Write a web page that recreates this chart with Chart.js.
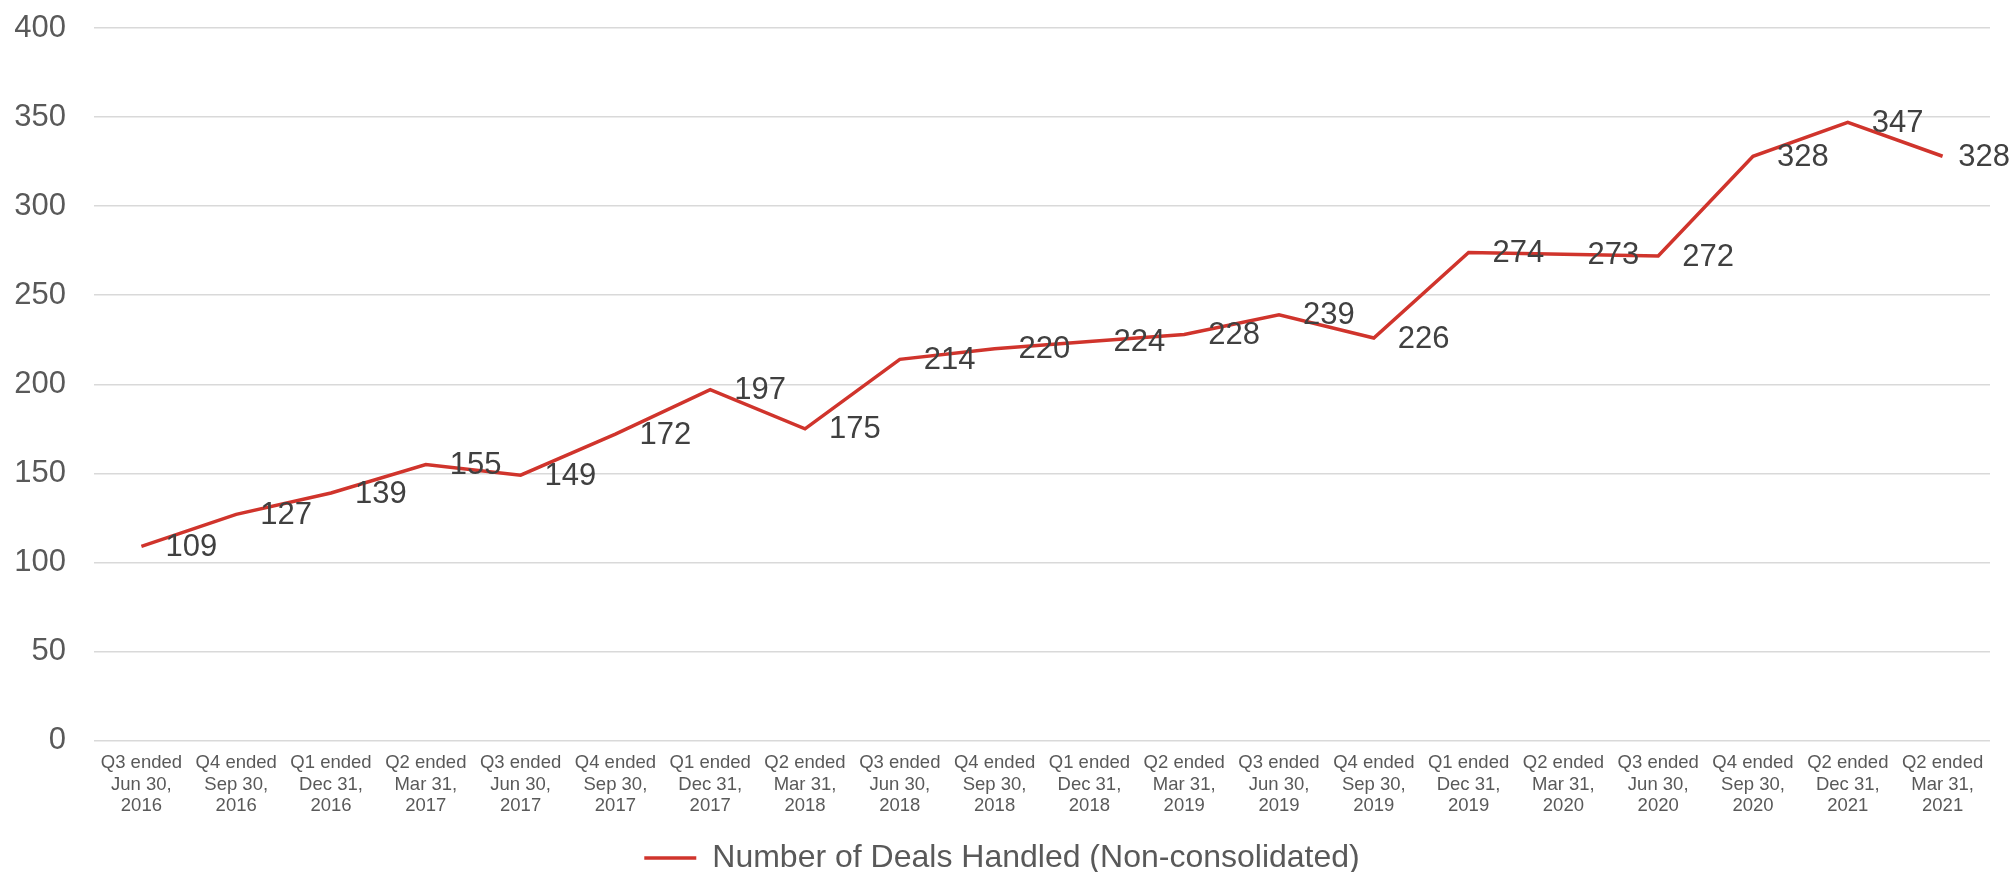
<!DOCTYPE html>
<html>
<head>
<meta charset="utf-8">
<title>Number of Deals Handled</title>
<script src="https://cdn.jsdelivr.net/npm/chart.js@4.4.1/dist/chart.umd.min.js"></script>
<style>
  html, body { margin: 0; padding: 0; background: #ffffff; }
  #wrap { width: 2013px; height: 872px; position: relative; }
</style>
</head>
<body>
<div id="wrap"><canvas id="dealsChart"></canvas></div>
<script>
// quarters (each label split over three lines)
const quarters = [
  ['Q3 ended', 'Jun 30,', '2016'],
  ['Q4 ended', 'Sep 30,', '2016'],
  ['Q1 ended', 'Dec 31,', '2016'],
  ['Q2 ended', 'Mar 31,', '2017'],
  ['Q3 ended', 'Jun 30,', '2017'],
  ['Q4 ended', 'Sep 30,', '2017'],
  ['Q1 ended', 'Dec 31,', '2017'],
  ['Q2 ended', 'Mar 31,', '2018'],
  ['Q3 ended', 'Jun 30,', '2018'],
  ['Q4 ended', 'Sep 30,', '2018'],
  ['Q1 ended', 'Dec 31,', '2018'],
  ['Q2 ended', 'Mar 31,', '2019'],
  ['Q3 ended', 'Jun 30,', '2019'],
  ['Q4 ended', 'Sep 30,', '2019'],
  ['Q1 ended', 'Dec 31,', '2019'],
  ['Q2 ended', 'Mar 31,', '2020'],
  ['Q3 ended', 'Jun 30,', '2020'],
  ['Q4 ended', 'Sep 30,', '2020'],
  ['Q2 ended', 'Dec 31,', '2021'],
  ['Q2 ended', 'Mar 31,', '2021']
];

// deals handled per quarter
const dealsHandled = [109, 127, 139, 155, 149, 172, 197, 175, 214, 220,
                      224, 228, 239, 226, 274, 273, 272, 328, 347, 328];

const yTicks = [0, 50, 100, 150, 200, 250, 300, 350, 400];

const fontFamily = "'Liberation Sans', Arial, sans-serif";

// writes the value to the right of every point (kept inside the canvas)
const valueLabels = {
  id: 'valueLabels',
  afterDatasetsDraw(chart) {
    const ctx = chart.ctx;
    const meta = chart.getDatasetMeta(0);
    ctx.save();
    ctx.font = '31px ' + fontFamily;
    ctx.fillStyle = '#404040';
    ctx.textAlign = 'left';
    ctx.textBaseline = 'middle';
    meta.data.forEach((pt, i) => {
      const txt = String(dealsHandled[i]);
      const w = ctx.measureText(txt).width;
      const x = Math.min(pt.x + 24, chart.width - 3 - w);
      ctx.fillText(txt, x, pt.y + 1);
    });
    ctx.restore();
  }
};

const ctx = document.getElementById('dealsChart').getContext('2d');
const dealsChart = new Chart(ctx, {
  type: 'line',
  data: {
    labels: quarters,
    datasets: [{
      label: 'Number of Deals Handled (Non-consolidated)',
      data: dealsHandled,
      borderColor: '#d0342c',
      backgroundColor: '#d0342c',
      borderWidth: 3.5,
      pointRadius: 0,
      pointHoverRadius: 0,
      tension: 0,
      fill: false
    }]
  },
  options: {
    responsive: true,
    maintainAspectRatio: false,
    animation: false,
    layout: {
      padding: { top: 28, right: 23, left: 14, bottom: -12 }
    },
    plugins: {
      tooltip: { enabled: false },
      legend: {
        position: 'bottom',
        labels: {
          usePointStyle: true,
          pointStyle: 'line',
          pointStyleWidth: 52,
          color: '#595959',
          padding: 2,
          font: { family: fontFamily, size: 32 }
        }
      }
    },
    scales: {
      x: {
        offset: true,
        grid: { display: false, drawTicks: false },
        border: { display: false },
        afterFit(axis) {
          axis.height += 11;
        },
        ticks: {
          autoSkip: false,
          maxRotation: 0,
          minRotation: 0,
          padding: 12,
          color: '#595959',
          font: { family: fontFamily, size: 18.5, lineHeight: 1.16 }
        }
      },
      y: {
        min: 0,
        max: 400,
        afterBuildTicks(axis) {
          axis.ticks = yTicks.map(v => ({ value: v }));
        },
        afterFit(axis) {
          axis.width = 80;
          axis.paddingTop = 0;
          axis.paddingBottom = 0;
        },
        grid: { color: '#d9d9d9', lineWidth: 1.5, drawTicks: false },
        border: { display: false },
        ticks: {
          padding: 28,
          color: '#595959',
          font: { family: fontFamily, size: 31 }
        }
      }
    }
  },
  plugins: [valueLabels]
});
</script>
</body>
</html>
